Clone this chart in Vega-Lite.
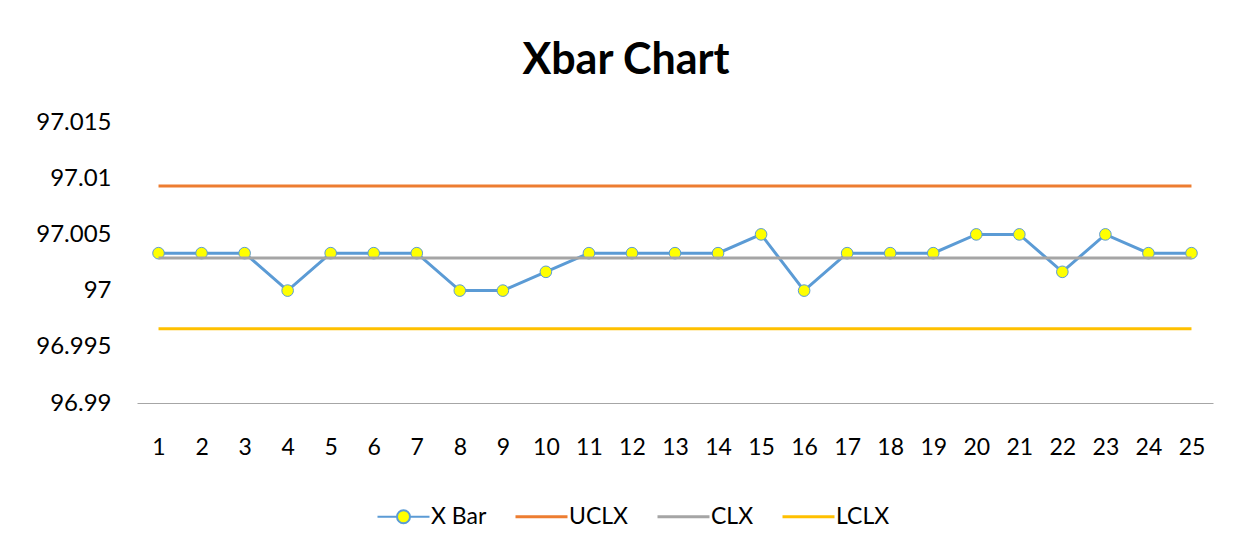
{
  "$schema": "https://vega.github.io/schema/vega-lite/v6.json",
  "width": 1076,
  "height": 281,
  "autosize": "none",
  "padding": {"left": 137, "top": 122, "right": 26, "bottom": 143},
  "background": "white",
  "title": {
    "text": "Xbar Chart",
    "font": "Lato",
    "fontSize": 43,
    "fontWeight": "bold",
    "color": "#000000",
    "anchor": "middle",
    "dx": -49,
    "baseline": "alphabetic",
    "offset": -7
  },
  "data": {
    "values": [
      {"sample": 1, "xbar": 97.00333, "uclx": 97.0093, "clx": 97.0029, "lclx": 96.9966},
      {"sample": 2, "xbar": 97.00333, "uclx": 97.0093, "clx": 97.0029, "lclx": 96.9966},
      {"sample": 3, "xbar": 97.00333, "uclx": 97.0093, "clx": 97.0029, "lclx": 96.9966},
      {"sample": 4, "xbar": 97.0, "uclx": 97.0093, "clx": 97.0029, "lclx": 96.9966},
      {"sample": 5, "xbar": 97.00333, "uclx": 97.0093, "clx": 97.0029, "lclx": 96.9966},
      {"sample": 6, "xbar": 97.00333, "uclx": 97.0093, "clx": 97.0029, "lclx": 96.9966},
      {"sample": 7, "xbar": 97.00333, "uclx": 97.0093, "clx": 97.0029, "lclx": 96.9966},
      {"sample": 8, "xbar": 97.0, "uclx": 97.0093, "clx": 97.0029, "lclx": 96.9966},
      {"sample": 9, "xbar": 97.0, "uclx": 97.0093, "clx": 97.0029, "lclx": 96.9966},
      {"sample": 10, "xbar": 97.00167, "uclx": 97.0093, "clx": 97.0029, "lclx": 96.9966},
      {"sample": 11, "xbar": 97.00333, "uclx": 97.0093, "clx": 97.0029, "lclx": 96.9966},
      {"sample": 12, "xbar": 97.00333, "uclx": 97.0093, "clx": 97.0029, "lclx": 96.9966},
      {"sample": 13, "xbar": 97.00333, "uclx": 97.0093, "clx": 97.0029, "lclx": 96.9966},
      {"sample": 14, "xbar": 97.00333, "uclx": 97.0093, "clx": 97.0029, "lclx": 96.9966},
      {"sample": 15, "xbar": 97.005, "uclx": 97.0093, "clx": 97.0029, "lclx": 96.9966},
      {"sample": 16, "xbar": 97.0, "uclx": 97.0093, "clx": 97.0029, "lclx": 96.9966},
      {"sample": 17, "xbar": 97.00333, "uclx": 97.0093, "clx": 97.0029, "lclx": 96.9966},
      {"sample": 18, "xbar": 97.00333, "uclx": 97.0093, "clx": 97.0029, "lclx": 96.9966},
      {"sample": 19, "xbar": 97.00333, "uclx": 97.0093, "clx": 97.0029, "lclx": 96.9966},
      {"sample": 20, "xbar": 97.005, "uclx": 97.0093, "clx": 97.0029, "lclx": 96.9966},
      {"sample": 21, "xbar": 97.005, "uclx": 97.0093, "clx": 97.0029, "lclx": 96.9966},
      {"sample": 22, "xbar": 97.00167, "uclx": 97.0093, "clx": 97.0029, "lclx": 96.9966},
      {"sample": 23, "xbar": 97.005, "uclx": 97.0093, "clx": 97.0029, "lclx": 96.9966},
      {"sample": 24, "xbar": 97.00333, "uclx": 97.0093, "clx": 97.0029, "lclx": 96.9966},
      {"sample": 25, "xbar": 97.00333, "uclx": 97.0093, "clx": 97.0029, "lclx": 96.9966}
    ]
  },
  "encoding": {
    "x": {
      "field": "sample",
      "type": "ordinal",
      "title": null,
      "axis": {
        "labelAngle": 0,
        "labelFont": "Lato",
        "labelFontSize": 23,
        "labelColor": "#000000",
        "ticks": false,
        "tickSize": 0,
        "labelPadding": 33,
        "domainColor": "#A6A6A6",
        "domainWidth": 1,
        "grid": false
      }
    }
  },
  "layer": [
    {
      "mark": {"type": "line", "strokeWidth": 3},
      "encoding": {
        "y": {
          "field": "xbar",
          "type": "quantitative",
          "title": null,
          "scale": {"domain": [96.99, 97.015], "zero": false, "nice": false},
          "axis": {
            "values": [96.99, 96.995, 97.0, 97.005, 97.01, 97.015],
            "format": ".3~f",
            "labelFont": "Lato",
            "labelFontSize": 24,
            "labelColor": "#000000",
            "ticks": false,
            "tickSize": 0,
            "domain": false,
            "grid": false,
            "labelPadding": 26
          }
        },
        "color": {
          "datum": "xbar",
          "type": "nominal",
          "title": null,
          "scale": {
            "domain": ["xbar", "uclx", "clx", "lclx"],
            "range": ["#5B9BD5", "#ED7D31", "#A5A5A5", "#FFC000"]
          },
          "legend": {
            "title": null,
            "orient": "none",
            "direction": "horizontal",
            "legendX": 255,
            "legendY": 383,
            "padding": 0,
            "symbolSize": 2704,
            "symbolStrokeWidth": 3,
            "symbolType": "stroke",
            "labelFont": "Lato",
            "labelFontSize": 23,
            "labelColor": "#000000",
            "labelOffset": 16,
            "columnPadding": 22,
            "labelExpr": "datum.value === 'xbar' ? 'X Bar' : upper(datum.value)",
            "encode": {
              "symbols": {
                "update": {
                  "shape": {"signal": "datum.value === 'xbar' ? 'M-1,0L-0.25,0M0.25,0A0.25,0.25 0 1,1 -0.25,0A0.25,0.25 0 1,1 0.25,0M0.25,0L1,0' : 'stroke'"},
                  "fill": {"signal": "datum.value === 'xbar' ? '#FFFF00' : 'transparent'"},
                  "strokeWidth": {"signal": "datum.value === 'xbar' ? 2 : 3"},
                  "opacity": {"value": 1}
                }
              }
            }
          }
        }
      }
    },
    {
      "mark": {"type": "point", "filled": true, "fill": "#FFFF00", "stroke": "#5B9BD5", "strokeWidth": 1, "size": 135, "opacity": 1},
      "encoding": {
        "y": {"field": "xbar", "type": "quantitative"}
      }
    },
    {
      "transform": [{"fold": ["uclx", "clx", "lclx"], "as": ["series", "val"]}],
      "mark": {"type": "line", "strokeWidth": 3},
      "encoding": {
        "y": {"field": "val", "type": "quantitative"},
        "color": {"field": "series", "type": "nominal", "title": null}
      }
    }
  ],
  "resolve": {"scale": {"y": "shared", "color": "shared"}},
  "config": {
    "view": {"stroke": null},
    "scale": {"pointPadding": 0.5}
  }
}
